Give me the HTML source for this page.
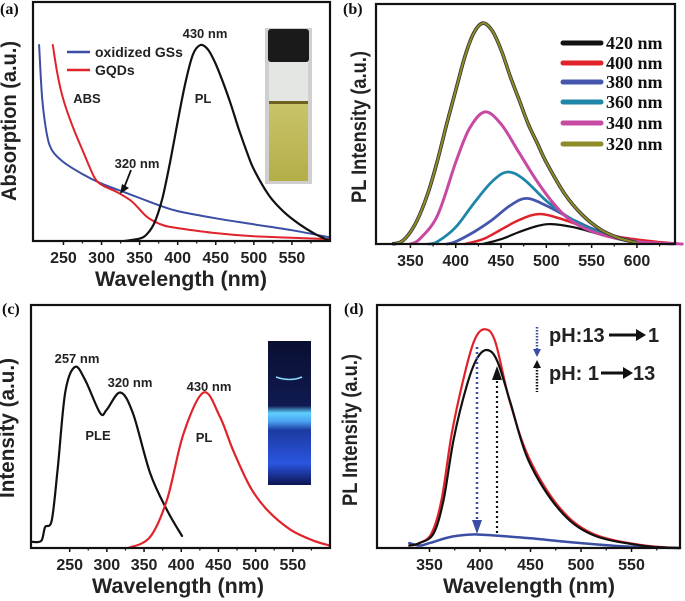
<!DOCTYPE html>
<html><head><meta charset="utf-8"><style>
html,body{margin:0;padding:0;background:#fff}
svg{display:block}
text{font-family:"Liberation Sans",sans-serif;font-weight:bold;fill:#222}
.pl{font-family:"Liberation Serif",serif;font-weight:bold;fill:#111}
</style></head><body>
<svg id="fig" width="685" height="601" viewBox="0 0 685 601" xmlns="http://www.w3.org/2000/svg">
<defs>
<linearGradient id="vialY" x1="0" y1="0" x2="0" y2="1"><stop offset="0" stop-color="#c9c46a"/><stop offset="1" stop-color="#b4ae48"/></linearGradient>
<linearGradient id="vialB" x1="0" y1="0" x2="0" y2="1"><stop offset="0" stop-color="#0a0f30"/><stop offset="0.45" stop-color="#101a50"/><stop offset="0.5" stop-color="#5fd0ff"/><stop offset="0.56" stop-color="#4aa0f0"/><stop offset="0.62" stop-color="#1c3aa0"/><stop offset="0.85" stop-color="#2a55e0"/><stop offset="1" stop-color="#0c1450"/></linearGradient>
</defs>
<g id="root"></g>
</svg>
<script>
// ---------- DATA ----------
// Panel (a)
const aBlueX=[218,222,228,235,250,275,300,325,350,375,400,450,500,550,600];
const aBlueY=[0.82,0.6,0.45,0.38,0.33,0.28,0.24,0.21,0.18,0.15,0.125,0.095,0.07,0.045,0.015];
const aRedX=[236,242,250,262,275,290,300,320,340,360,380,400,450,500,600];
const aRedY=[0.82,0.7,0.59,0.48,0.38,0.27,0.235,0.205,0.165,0.10,0.067,0.054,0.033,0.02,0.008];
const aPLX=[330,350,360,370,380,390,400,410,420,430,440,450,460,470,480,490,500,520,540,560,580,600];
const aPLY=[0,0.01,0.03,0.08,0.18,0.33,0.5,0.66,0.78,0.82,0.80,0.74,0.66,0.57,0.47,0.38,0.30,0.19,0.12,0.07,0.03,0.0];
const aTicks=[250,300,350,400,450,500,550];
// Panel (b)
const bLegend=["420 nm","400 nm","380 nm","360 nm","340 nm","320 nm"];
const b320X=[330,340,350,360,370,380,390,400,410,420,430,440,450,460,470,480,490,500,520,540,560,580,600];
const b320Y=[0,0.01,0.05,0.12,0.22,0.35,0.5,0.64,0.78,0.88,0.92,0.89,0.81,0.7,0.6,0.5,0.42,0.34,0.21,0.12,0.06,0.025,0.005];
const b340X=[350,360,380,400,415,432,450,470,490,510,530,560,600,650];
const b340Y=[0,0.02,0.12,0.34,0.48,0.55,0.5,0.38,0.26,0.16,0.09,0.04,0.01,0.0];
const b360X=[370,380,400,420,440,457,475,500,525,550,580,610];
const b360Y=[0,0.01,0.07,0.17,0.26,0.3,0.27,0.18,0.11,0.06,0.02,0.005];
const b380X=[390,400,420,440,460,478,500,530,560,600,640];
const b380Y=[0,0.01,0.05,0.1,0.16,0.19,0.16,0.1,0.05,0.01,0.0];
const b400X=[410,430,450,470,493,520,550,580,620,650];
const b400Y=[0,0.02,0.06,0.1,0.125,0.1,0.06,0.03,0.01,0.0];
const b420X=[430,450,470,490,505,530,560,590,620];
const b420Y=[0,0.02,0.05,0.075,0.083,0.07,0.04,0.015,0.005];
const bTicks=[350,400,450,500,550,600];
// Panel (c)
const cPLEX=[200,212,217,226,234,244,257,271,291,300,318,335,358,381,401];
const cPLEY=[0.025,0.03,0.086,0.115,0.33,0.64,0.745,0.69,0.555,0.57,0.64,0.555,0.31,0.155,0.05];
const cPLX=[329,358,381,403,430,452,470,493,516,547,578,600];
const cPLY=[0,0.045,0.2,0.47,0.64,0.54,0.4,0.25,0.155,0.075,0.03,0.01];
const cTicks=[250,300,350,400,450,500,550];
// Panel (d)
const dRedX=[330,340,352,362,372,385,395,405,415,429,448,478,511,560,598];
const dRedY=[0.01,0.02,0.06,0.2,0.47,0.72,0.86,0.9,0.85,0.61,0.375,0.17,0.06,0.012,0.0];
const dBlackX=[330,340,354,364,374,387,397,407,417,430,448,478,511,560,598];
const dBlackY=[0.01,0.02,0.06,0.2,0.45,0.67,0.78,0.815,0.77,0.6,0.36,0.16,0.055,0.01,0.0];
const dBlueX=[330,340,350,370,390,400,420,450,500,550,598];
const dBlueY=[0.02,0.01,0.02,0.045,0.055,0.055,0.05,0.04,0.02,0.005,0.0];
const dTicks=[350,400,450,500,550];

// ---------- HELPERS ----------
const NS="http://www.w3.org/2000/svg";
const root=document.getElementById('root');
function mk(tag,attrs,parent){const e=document.createElementNS(NS,tag);for(const k in attrs)e.setAttribute(k,attrs[k]);(parent||root).appendChild(e);return e;}
function txt(s,x,y,size,attrs,parent){const t=mk('text',Object.assign({x:x,y:y,'font-size':size},attrs||{}),parent);t.textContent=s;return t;}
function smooth(pts){let d='M'+pts[0][0].toFixed(1)+','+pts[0][1].toFixed(1);
 for(let i=0;i<pts.length-1;i++){const p0=pts[i-1]||pts[i],p1=pts[i],p2=pts[i+1],p3=pts[i+2]||p2;
  const c1=[p1[0]+(p2[0]-p0[0])/6,p1[1]+(p2[1]-p0[1])/6],c2=[p2[0]-(p3[0]-p1[0])/6,p2[1]-(p3[1]-p1[1])/6];
  d+='C'+c1[0].toFixed(1)+','+c1[1].toFixed(1)+' '+c2[0].toFixed(1)+','+c2[1].toFixed(1)+' '+p2[0].toFixed(1)+','+p2[1].toFixed(1);}
 return d;}
function panel(cfg){
 const sx=v=>cfg.x0+(v-cfg.d0)/(cfg.d1-cfg.d0)*(cfg.x1-cfg.x0);
 const sy=v=>cfg.yb-v*(cfg.yb-cfg.yt);
 const g=mk('g',{});
 
 
 cfg.sx=sx;cfg.sy=sy;cfg.g=g;
 cfg.ticks.forEach(t=>{
  const tk=mk('line',{x1:sx(t),x2:sx(t),y1:cfg.yb,y2:cfg.yb+4,stroke:'#111','stroke-width':1.5},g);
  
  
  const mn=mk('line',{x1:sx(t+25),x2:sx(t+25),y1:cfg.yb,y2:cfg.yb+2.5,stroke:'#111','stroke-width':1.2},g);
  
  
  const lb=txt(String(t),sx(t),cfg.yb+22,16,{'text-anchor':'middle'},g);
  
  
 });
 return cfg;}
function series(cfg,X,Y,color,w,name,outline){
 const pts=X.map((x,i)=>[cfg.sx(x),cfg.sy(Y[i])]);
 if(outline){const o=mk('path',{d:smooth(pts),fill:'none',stroke:outline,'stroke-width':w+1.6,'stroke-linejoin':'round'},cfg.g);
  
  }
 const p=mk('path',{d:smooth(pts),fill:'none',stroke:color,'stroke-width':w,'stroke-linejoin':'round','stroke-linecap':'round'},cfg.g);
 
 
 return p;}
function frame(cfg){const r=mk('rect',{x:cfg.x0,y:cfg.yt,width:cfg.x1-cfg.x0,height:cfg.yb-cfg.yt,fill:'none',stroke:'#111','stroke-width':2.2},cfg.g);
 
 }
function ytitle(s,x,y,len,g){const t=txt(s,x,y,21,{'text-anchor':'middle',transform:'rotate(-90 '+x+' '+y+')',textLength:len,lengthAdjust:'spacingAndGlyphs'},g);
 
 }
function xtitle(s,x,y,g){const t=txt(s,x,y,21,{'text-anchor':'middle',textLength:172,lengthAdjust:'spacingAndGlyphs'},g);
 
 }
function label(s,x,y,size,g,name,anchor){const t=txt(s,x,y,size,{'text-anchor':anchor||'middle'},g);
 
 return t;}

// ---------- PANEL A ----------
const A=panel({name:'panel-a',x0:33,x1:330,d0:210,d1:600,yt:2,yb:241,ticks:aTicks});
series(A,aBlueX,aBlueY,'#3b4ea3',2,'series-oxidized-gss');
series(A,aRedX,aRedY,'#e0232b',2,'series-gqds');
series(A,aPLX,aPLY,'#111',2.2,'series-pl');
frame(A);
ytitle('Absorption (a.u.)',16,121,160,A.g);
xtitle('Wavelength (nm)',181,286,A.g);
label('430 nm',205,38,13,A.g,'peak-label-430');
label('ABS',87,103,13,A.g,'abs-label');
label('PL',203,103,13,A.g,'pl-label');
label('320 nm',137,168,13,A.g,'label-320');
(function(){const l=mk('line',{x1:131,y1:170,x2:124,y2:188,stroke:'#111','stroke-width':1.8},A.g);
 const h=mk('polygon',{points:'120,194 122,184 129,188',fill:'#111'},A.g);})();
(function(){const l1=mk('line',{x1:67,x2:90,y1:52,y2:52,stroke:'#3b4ea3','stroke-width':2.5},A.g);
 label('oxidized GSs',95,57,14,A.g,'legend-label-oxidized-gss','start');
 const l2=mk('line',{x1:67,x2:90,y1:70,y2:70,stroke:'#e0232b','stroke-width':2.5},A.g);
 label('GQDs',95,75,14,A.g,'legend-label-gqds','start');
 const v=mk('g',{},A.g);
 mk('rect',{x:265,y:28,width:47,height:156,fill:'#cfcfcf'},v);
 mk('rect',{x:268,y:29,width:41,height:33,fill:'#1a1a1a',rx:3},v);
 mk('rect',{x:269,y:62,width:39,height:40,fill:'#e4e6e2'},v);
 mk('rect',{x:269,y:102,width:39,height:79,fill:'url(#vialY)'},v);
 mk('rect',{x:269,y:101,width:39,height:3,fill:'#6e6020'},v);})();
label('(a)',0,14,16,A.g,'panel-label-a','start').setAttribute('class','pl');

// ---------- PANEL B ----------
const B=panel({name:'panel-b',x0:376,x1:675,d0:312,d1:642,yt:4,yb:244,ticks:bTicks});
series(B,b420X,b420Y,'#111',2.2,'series-420nm');
series(B,b400X,b400Y,'#e0232b',2.5,'series-400nm');
series(B,b380X,b380Y,'#4556ac',2.8,'series-380nm');
series(B,b360X,b360Y,'#1f86a8',2.8,'series-360nm');
series(B,b340X,b340Y,'#c64aa2',3,'series-340nm');
series(B,b320X,b320Y,'#8e8c28',2,'series-320nm','#333');
frame(B);
ytitle('PL Intensity (a.u.)',366,127,152,B.g);
const bCols=['#111','#e0232b','#4556ac','#1f86a8','#c64aa2','#8e8c28'];
const bRowY=[43,63,82,102,123,144];
bLegend.forEach((s,i)=>{const l=mk('line',{x1:563,x2:601,y1:bRowY[i],y2:bRowY[i],stroke:bCols[i],'stroke-width':5,'stroke-linecap':'round'},B.g);
 
 
 const t=label(s,606,bRowY[i]+6,18,B.g,'legend-entry','start');t.setAttribute('class','pl');});
label('(b)',343,14,16,B.g,'panel-label-b','start').setAttribute('class','pl');

// ---------- PANEL C ----------
const C=panel({name:'panel-c',x0:31,x1:330,d0:198,d1:600,yt:305,yb:548,ticks:cTicks});
series(C,cPLEX,cPLEY,'#111',2.2,'series-ple');
series(C,cPLX,cPLY,'#e0232b',2.2,'series-pl');
frame(C);
ytitle('Intensity (a.u.)',14,428,140,C.g);
xtitle('Wavelength (nm)',178,593,C.g);
label('257 nm',77,363,13,C.g,'peak-label-257');
label('320 nm',130,387,13,C.g,'peak-label-320');
label('430 nm',209,391,13,C.g,'peak-label-430');
label('PLE',98,440,13,C.g,'ple-label');
label('PL',204,442,13,C.g,'pl-label');
(function(){const v=mk('g',{},C.g);
 mk('rect',{x:268,y:341,width:43,height:144,fill:'url(#vialB)'},v);
 mk('path',{d:'M276,377 Q290,382 302,377',stroke:'#8ad8ff','stroke-width':1.5,fill:'none'},v);})();
label('(c)',2,314,16,C.g,'panel-label-c','start').setAttribute('class','pl');

// ---------- PANEL D ----------
const D=panel({name:'panel-d',x0:377,x1:680,d0:298,d1:598,yt:305,yb:548,ticks:dTicks});
series(D,dBlueX,dBlueY,'#3b4ea3',2.5,'series-ph-13-to-1');
series(D,dRedX,dRedY,'#e0232b',2.2,'series-initial');
series(D,dBlackX,dBlackY,'#111',2.2,'series-ph-1-to-13');
frame(D);
ytitle('PL Intensity (a.u.)',357,430,152,D.g);
xtitle('Wavelength (nm)',529,593,D.g);
(function(){
 const g=D.g;
 const a1=mk('line',{x1:477,x2:477,y1:347,y2:522,stroke:'#3b4ea3','stroke-width':2.5,'stroke-dasharray':'2 3'},g);
 const h1=mk('polygon',{points:'472,520 482,520 477,534',fill:'#3b4ea3'},g);
 const a2=mk('line',{x1:497,x2:497,y1:533,y2:378,stroke:'#111','stroke-width':2.2,'stroke-dasharray':'2 3'},g);
 const h2=mk('polygon',{points:'492,380 502,380 497,366',fill:'#111'},g);
 const l1=mk('line',{x1:537,x2:537,y1:327,y2:350,stroke:'#3b4ea3','stroke-width':2.5,'stroke-dasharray':'1.5 1.5'},g);
 mk('polygon',{points:'533,349 541,349 537,357',fill:'#3b4ea3'},g);
 const l2=mk('line',{x1:537,x2:537,y1:367,y2:392,stroke:'#111','stroke-width':2.5,'stroke-dasharray':'1.5 1.5'},g);
 mk('polygon',{points:'533,368 541,368 537,360',fill:'#111'},g);
 label('pH:13',549,342,20,g,'legend-ph-13-to-1','start').setAttribute('font-weight','normal');
 mk('line',{x1:609,x2:638,y1:335,y2:335,stroke:'#111','stroke-width':3},g);
 mk('polygon',{points:'636,329 646,335 636,341',fill:'#111'},g);
 label('1',648,342,20,g,'legend-ph-1','start').setAttribute('font-weight','normal');
 label('pH: 1',549,380,20,g,'legend-ph-1-to-13','start').setAttribute('font-weight','normal');
 mk('line',{x1:601,x2:625,y1:373,y2:373,stroke:'#111','stroke-width':3},g);
 mk('polygon',{points:'623,367 633,373 623,379',fill:'#111'},g);
 label('13',633,380,20,g,'legend-ph-13','start').setAttribute('font-weight','normal');
})();
label('(d)',344,314,16,D.g,'panel-label-d','start').setAttribute('class','pl');
</script>
</body></html>
